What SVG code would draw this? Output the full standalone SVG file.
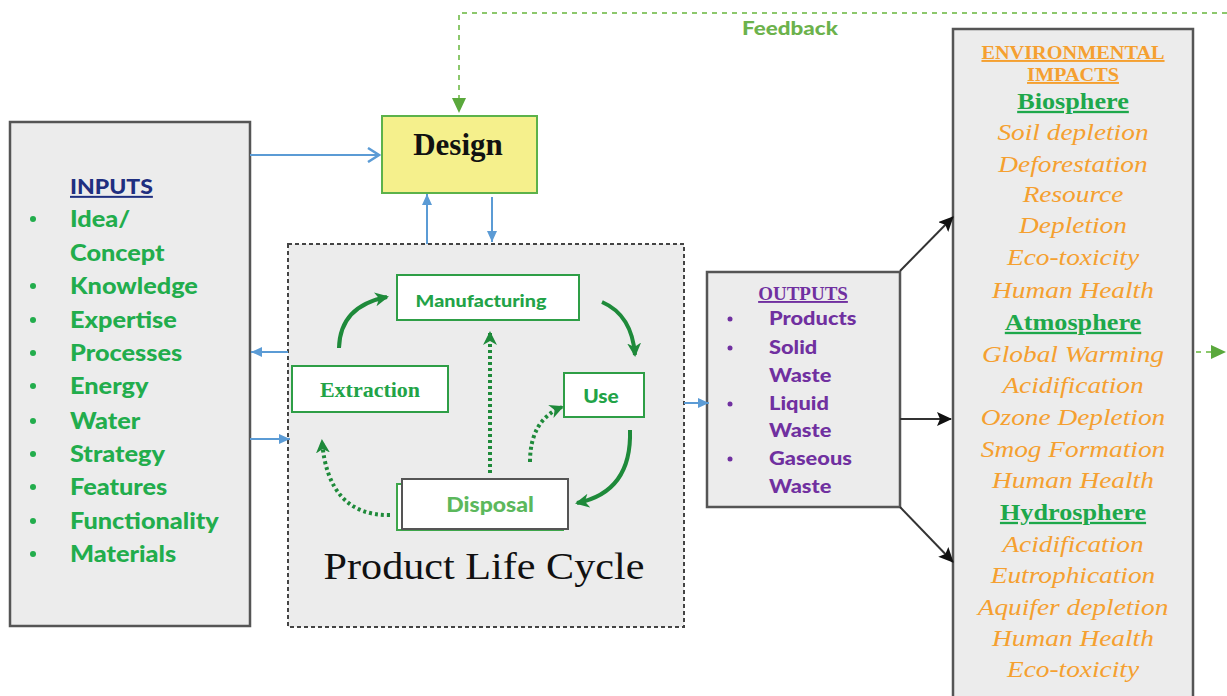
<svg xmlns="http://www.w3.org/2000/svg" width="1227" height="696" viewBox="0 0 1227 696">
  <style>
    .panel { fill: #ececec; stroke: #555; stroke-width: 2.5; }
    .stage { fill: #fff; stroke: #2e9e46; stroke-width: 2; }
    .in { font-family: Lato, "Open Sans", sans-serif; font-weight: 900; font-size: 22px; fill: #22ad4c; }
    .out { font-family: Lato, "Open Sans", sans-serif; font-weight: 900; font-size: 18.5px; fill: #7030a0; }
    .imp { font-family: "Liberation Serif", serif; font-style: italic; font-size: 24px; fill: #f5a030; text-anchor: middle; }
    .sphere { font-family: "Liberation Serif", serif; font-weight: bold; font-size: 23px; fill: #1ea84b; text-anchor: middle; text-decoration: underline; }
    .head { font-family: "Liberation Serif", serif; font-weight: bold; font-size: 19.5px; fill: #f5a030; text-anchor: middle; text-decoration: underline; }
    .blue { stroke: #5b9bd5; stroke-width: 2; fill: none; }
    .cyc { stroke: #1e8a3a; stroke-width: 4; fill: none; }
    .dot { stroke: #1e8a3a; stroke-width: 4; fill: none; stroke-dasharray: 3 3; }
    .blk { stroke: #333; stroke-width: 2; fill: none; }
    .fb { stroke: #8cc86c; stroke-width: 2; fill: none; stroke-dasharray: 5 5; }
  </style>
  <defs>
    <marker id="ah-blue" markerUnits="userSpaceOnUse" markerWidth="12" markerHeight="12" refX="11" refY="6" orient="auto">
      <path d="M0,1 L11,6 L0,11 z" fill="#5b9bd5"/>
    </marker>
    <marker id="ah-open" markerUnits="userSpaceOnUse" markerWidth="14" markerHeight="16" refX="12" refY="8" orient="auto">
      <path d="M1,1 L12,8 L1,15" fill="none" stroke="#5b9bd5" stroke-width="2.5"/>
    </marker>
    <marker id="ah-cyc" markerUnits="userSpaceOnUse" markerWidth="16" markerHeight="16" refX="12" refY="8" orient="auto">
      <path d="M0,1 L14,8 L0,15 L4,8 z" fill="#1e8a3a"/>
    </marker>
    <marker id="ah-blk" markerUnits="userSpaceOnUse" markerWidth="16" markerHeight="14" refX="14" refY="7" orient="auto">
      <path d="M0,0 L15,7 L0,14 L3,7 z" fill="#111"/>
    </marker>
    <marker id="ah-fb" markerUnits="userSpaceOnUse" markerWidth="16" markerHeight="14" refX="14" refY="7" orient="auto">
      <path d="M0,0 L15,7 L0,14 z" fill="#5aa83c"/>
    </marker>
  </defs>

  <rect width="1227" height="696" fill="#fff"/>

  <!-- INPUTS panel -->
  <g id="inputs">
    <rect class="panel" x="10" y="122" width="240" height="504"/>
    <g fill="#22ad4c">
      <circle cx="33" cy="219" r="3"/>
      <circle cx="33" cy="286" r="3"/>
      <circle cx="33" cy="320" r="3"/>
      <circle cx="33" cy="353" r="3"/>
      <circle cx="33" cy="386" r="3"/>
      <circle cx="33" cy="421" r="3"/>
      <circle cx="33" cy="454" r="3"/>
      <circle cx="33" cy="487" r="3"/>
      <circle cx="33" cy="521" r="3"/>
      <circle cx="33" cy="554" r="3"/>
    </g>
    <g transform="translate(70 0) scale(1.15 1)">
      <text x="0" y="194" font-family="Lato, sans-serif" font-weight="900" font-size="20" fill="#1f2f80" text-decoration="underline">INPUTS</text>
      <text class="in" x="0" y="227">Idea/</text>
      <text class="in" x="0" y="261">Concept</text>
      <text class="in" x="0" y="294">Knowledge</text>
      <text class="in" x="0" y="328">Expertise</text>
      <text class="in" x="0" y="361">Processes</text>
      <text class="in" x="0" y="394">Energy</text>
      <text class="in" x="0" y="429">Water</text>
      <text class="in" x="0" y="462">Strategy</text>
      <text class="in" x="0" y="495">Features</text>
      <text class="in" x="0" y="529">Functionality</text>
      <text class="in" x="0" y="562">Materials</text>
    </g>
  </g>

  <!-- Design node -->
  <g id="design">
    <rect x="382" y="116" width="155" height="77" fill="#f5f08c" stroke="#5cb24a" stroke-width="2"/>
    <text x="458" y="155" font-family="Liberation Serif, serif" font-weight="bold" font-size="31" fill="#111" text-anchor="middle">Design</text>
  </g>

  <!-- Product life cycle container -->
  <g id="life-cycle">
    <rect x="288" y="244" width="396" height="383" fill="#ececec" stroke="#444" stroke-width="2" stroke-dasharray="4 3"/>
    <text transform="translate(484 579) scale(1.14 1)" x="0" y="0" font-family="Liberation Serif, serif" font-size="37" fill="#111" text-anchor="middle">Product Life Cycle</text>
  </g>

  <g id="manufacturing">
    <rect class="stage" x="397" y="275" width="182" height="45"/>
    <text transform="translate(481 307) scale(1.13 1)" x="0" y="0" font-family="Lato, sans-serif" font-weight="900" font-size="17.5" fill="#22a347" text-anchor="middle">Manufacturing</text>
  </g>
  <g id="extraction">
    <rect class="stage" x="292" y="366" width="156" height="46"/>
    <text x="370" y="397" font-family="Liberation Serif, serif" font-weight="bold" font-size="22" fill="#22a347" text-anchor="middle">Extraction</text>
  </g>
  <g id="use">
    <rect class="stage" x="564" y="373" width="80" height="44"/>
    <text transform="translate(601 403) scale(1.1 1)" x="0" y="0" font-family="Lato, sans-serif" font-weight="900" font-size="19" fill="#22a347" text-anchor="middle">Use</text>
  </g>
  <g id="disposal">
    <rect x="397" y="484" width="166" height="46" fill="#fff" stroke="#3da64a" stroke-width="2"/>
    <rect x="402" y="479" width="166" height="50" fill="#fff" stroke="#555" stroke-width="2"/>
    <text transform="translate(490 512) scale(1.15 1)" x="0" y="0" font-family="Lato, sans-serif" font-weight="900" font-size="20" fill="#5cb85c" text-anchor="middle">Disposal</text>
  </g>

  <!-- OUTPUTS panel -->
  <g id="outputs">
    <rect class="panel" x="707" y="272" width="193" height="235" stroke-width="3"/>
    <text x="803" y="300" font-family="Liberation Serif, serif" font-weight="bold" font-size="19" fill="#7030a0" text-anchor="middle" text-decoration="underline">OUTPUTS</text>
    <g fill="#7030a0">
      <circle cx="730" cy="319" r="2.5"/>
      <circle cx="730" cy="348" r="2.5"/>
      <circle cx="730" cy="404" r="2.5"/>
      <circle cx="730" cy="459" r="2.5"/>
    </g>
    <g transform="translate(769 0) scale(1.18 1)">
      <text class="out" x="0" y="325">Products</text>
      <text class="out" x="0" y="354">Solid</text>
      <text class="out" x="0" y="382">Waste</text>
      <text class="out" x="0" y="410">Liquid</text>
      <text class="out" x="0" y="437">Waste</text>
      <text class="out" x="0" y="465">Gaseous</text>
      <text class="out" x="0" y="493">Waste</text>
    </g>
  </g>

  <!-- ENVIRONMENTAL IMPACTS panel -->
  <g id="impacts">
    <rect class="panel" x="953" y="29" width="240" height="680"/>
    <g transform="translate(1073 0) scale(1.04 1)">
      <text class="head" x="0" y="59">ENVIRONMENTAL</text>
      <text class="head" x="0" y="81">IMPACTS</text>
    </g>
    <g transform="translate(1073 0) scale(1.14 1)">
      <text class="sphere" x="0" y="109">Biosphere</text>
      <text class="imp" x="0" y="140">Soil depletion</text>
      <text class="imp" x="0" y="172">Deforestation</text>
      <text class="imp" x="0" y="202">Resource</text>
      <text class="imp" x="0" y="233">Depletion</text>
      <text class="imp" x="0" y="265">Eco-toxicity</text>
      <text class="imp" x="0" y="298">Human Health</text>
      <text class="sphere" x="0" y="330">Atmosphere</text>
      <text class="imp" x="0" y="362">Global Warming</text>
      <text class="imp" x="0" y="393">Acidification</text>
      <text class="imp" x="0" y="425">Ozone Depletion</text>
      <text class="imp" x="0" y="457">Smog Formation</text>
      <text class="imp" x="0" y="488">Human Health</text>
      <text class="sphere" x="0" y="520">Hydrosphere</text>
      <text class="imp" x="0" y="552">Acidification</text>
      <text class="imp" x="0" y="583">Eutrophication</text>
      <text class="imp" x="0" y="615">Aquifer depletion</text>
      <text class="imp" x="0" y="646">Human Health</text>
      <text class="imp" x="0" y="677">Eco-toxicity</text>
    </g>
  </g>

  <!-- Connectors -->
  <g id="connectors">
    <!-- feedback loop -->
    <path class="fb" d="M1227,13 L459,13 L459,112" marker-end="url(#ah-fb)"/>
    <text transform="translate(790 35) scale(1.18 1)" x="0" y="0" font-family="Lato, sans-serif" font-weight="900" font-size="19" fill="#6cb24c" text-anchor="middle">Feedback</text>
    <path class="fb" d="M1196,352 L1225,352" marker-end="url(#ah-fb)"/>

    <!-- blue links -->
    <path class="blue" d="M250,155 L379,155" marker-end="url(#ah-open)"/>
    <path class="blue" d="M427,244 L427,194" marker-end="url(#ah-blue)"/>
    <path class="blue" d="M492,197 L492,242" marker-end="url(#ah-blue)"/>
    <path class="blue" d="M288,352 L251,352" marker-end="url(#ah-blue)"/>
    <path class="blue" d="M250,439 L290,439" marker-end="url(#ah-blue)"/>
    <path class="blue" d="M684,403 L709,403" marker-end="url(#ah-blue)"/>

    <!-- life cycle flow -->
    <path class="cyc" d="M339,348 Q340,306 387,297" marker-end="url(#ah-cyc)"/>
    <path class="cyc" d="M602,302 Q632,315 635,355" marker-end="url(#ah-cyc)"/>
    <path class="cyc" d="M630,430 Q632,492 577,503" marker-end="url(#ah-cyc)"/>
    <path class="dot" d="M390,515 Q328,516 322,441" marker-end="url(#ah-cyc)"/>
    <path class="dot" d="M490,473 L490,333" marker-end="url(#ah-cyc)"/>
    <path class="dot" d="M530,462 Q530,420 562,407" marker-end="url(#ah-cyc)"/>

    <!-- outputs to impacts -->
    <path class="blk" d="M900,271 L953,217" marker-end="url(#ah-blk)"/>
    <path class="blk" d="M900,419 L951,419" marker-end="url(#ah-blk)"/>
    <path class="blk" d="M900,507 L953,562" marker-end="url(#ah-blk)"/>
  </g>
</svg>
